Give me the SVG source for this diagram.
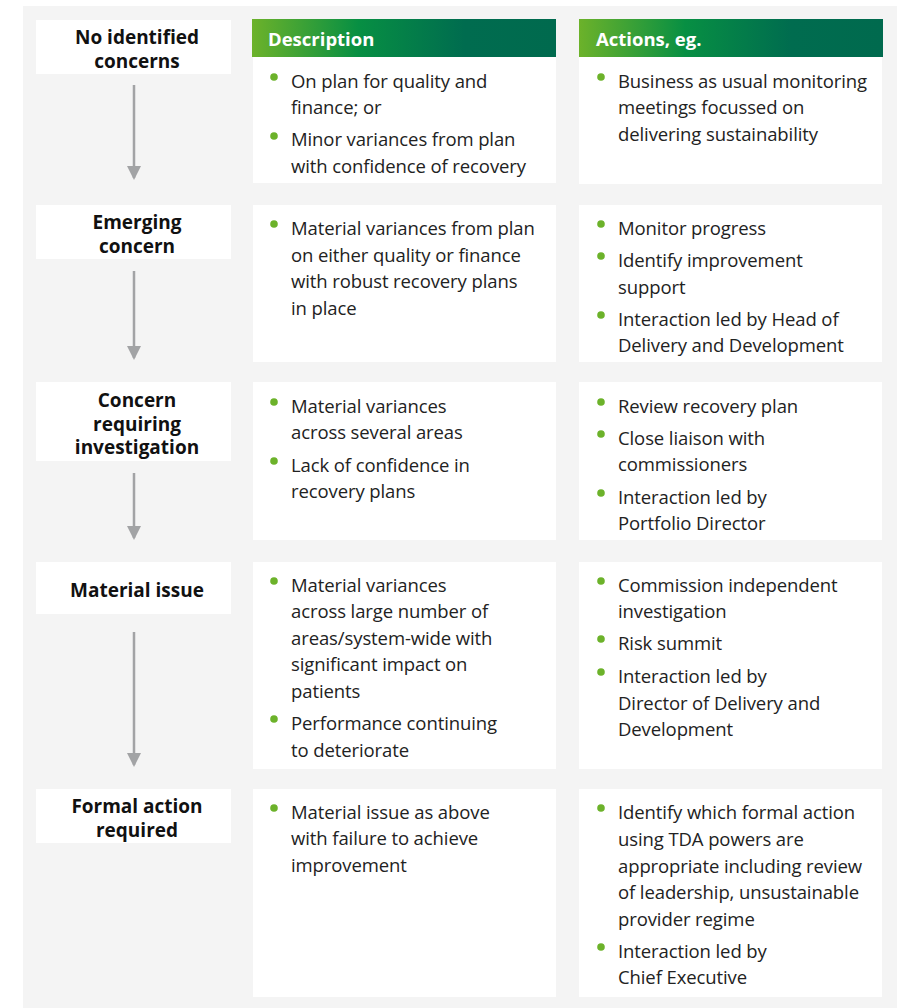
<svg xmlns="http://www.w3.org/2000/svg" width="900" height="1008" viewBox="0 0 900 1008">
  <defs>
    <linearGradient id="hdr" x1="0" y1="0" x2="1" y2="0">
      <stop offset="0" stop-color="#6cb22a"/>
      <stop offset="0.35" stop-color="#078f43"/>
      <stop offset="0.7" stop-color="#006c4f"/>
      <stop offset="1" stop-color="#006a4e"/>
    </linearGradient>
    <marker id="arrowDown" viewBox="0 0 14 14" refX="7" refY="12" markerWidth="14" markerHeight="14" markerUnits="userSpaceOnUse">
      <path d="M0,0 L14,0 L7,14 Z" fill="#a2a3a5"/>
    </marker>
  </defs>
  <style>
    .bg { fill: #f4f4f4; }
    .box { fill: #ffffff; }
    .lbl { font-family: "Open Sans", "Noto Sans", "Liberation Sans", sans-serif; font-weight: bold; font-size: 19px; fill: #111111; text-anchor: middle; }
    .hd { font-family: "Open Sans", "Noto Sans", "Liberation Sans", sans-serif; font-weight: bold; font-size: 18.5px; fill: #ffffff; }
    .tx { font-family: "Open Sans", "Noto Sans", "Liberation Sans", sans-serif; font-size: 18.5px; fill: #222222; letter-spacing: -0.1px; }
    .dot { fill: #6cb22a; }
    .conn { stroke: #a2a3a5; stroke-width: 2.5; fill: none; }
  </style>

  <rect class="bg" x="23" y="6" width="874" height="1002"/>

  <!-- column headers -->
  <g id="header-description">
    <rect x="252" y="19" width="304" height="38" fill="url(#hdr)"/>
    <text class="hd" x="268" y="46">Description</text>
  </g>
  <g id="header-actions">
    <rect x="579" y="19" width="304" height="38" fill="url(#hdr)"/>
    <text class="hd" x="596" y="46">Actions, eg.</text>
  </g>

  <!-- stage 1 -->
  <g id="stage-no-concerns">
    <rect class="box" x="36" y="20" width="195" height="54"/>
    <text class="lbl" x="137" y="44">No identified<tspan x="137" dy="23.5">concerns</tspan></text>
  </g>
  <g id="desc-no-concerns">
    <rect class="box" x="253" y="57" width="303" height="126"/>
    <circle class="dot" cx="274" cy="77" r="3.8"/>
    <text class="tx" x="291" y="88">On plan for quality and</text>
    <text class="tx" x="291" y="114">finance; or</text>
    <circle class="dot" cx="274" cy="136" r="3.8"/>
    <text class="tx" x="291" y="146">Minor variances from plan</text>
    <text class="tx" x="291" y="173">with confidence of recovery</text>
  </g>
  <g id="act-no-concerns">
    <rect class="box" x="579" y="57" width="303" height="127"/>
    <circle class="dot" cx="601" cy="77" r="3.8"/>
    <text class="tx" x="618" y="88">Business as usual monitoring</text>
    <text class="tx" x="618" y="114">meetings focussed on</text>
    <text class="tx" x="618" y="141">delivering sustainability</text>
  </g>

  <!-- stage 2 -->
  <g id="stage-emerging">
    <rect class="box" x="36" y="205" width="195" height="54"/>
    <text class="lbl" x="137" y="229">Emerging<tspan x="137" dy="23.5">concern</tspan></text>
  </g>
  <g id="desc-emerging">
    <rect class="box" x="253" y="205" width="303" height="157"/>
    <circle class="dot" cx="274" cy="224" r="3.8"/>
    <text class="tx" x="291" y="235">Material variances from plan</text>
    <text class="tx" x="291" y="262">on either quality or finance</text>
    <text class="tx" x="291" y="288">with robust recovery plans</text>
    <text class="tx" x="291" y="315">in place</text>
  </g>
  <g id="act-emerging">
    <rect class="box" x="579" y="205" width="303" height="157"/>
    <circle class="dot" cx="601" cy="224" r="3.8"/>
    <text class="tx" x="618" y="235">Monitor progress</text>
    <circle class="dot" cx="601" cy="256" r="3.8"/>
    <text class="tx" x="618" y="267">Identify improvement</text>
    <text class="tx" x="618" y="294">support</text>
    <circle class="dot" cx="601" cy="315" r="3.8"/>
    <text class="tx" x="618" y="326">Interaction led by Head of</text>
    <text class="tx" x="618" y="352">Delivery and Development</text>
  </g>

  <!-- stage 3 -->
  <g id="stage-investigation">
    <rect class="box" x="36" y="382" width="195" height="79"/>
    <text class="lbl" x="137" y="407">Concern<tspan x="137" dy="23.5">requiring</tspan><tspan x="137" dy="23.5">investigation</tspan></text>
  </g>
  <g id="desc-investigation">
    <rect class="box" x="253" y="382" width="303" height="158"/>
    <circle class="dot" cx="274" cy="402" r="3.8"/>
    <text class="tx" x="291" y="413">Material variances</text>
    <text class="tx" x="291" y="439">across several areas</text>
    <circle class="dot" cx="274" cy="461" r="3.8"/>
    <text class="tx" x="291" y="472">Lack of confidence in</text>
    <text class="tx" x="291" y="498">recovery plans</text>
  </g>
  <g id="act-investigation">
    <rect class="box" x="579" y="382" width="303" height="158"/>
    <circle class="dot" cx="601" cy="402" r="3.8"/>
    <text class="tx" x="618" y="413">Review recovery plan</text>
    <circle class="dot" cx="601" cy="434" r="3.8"/>
    <text class="tx" x="618" y="445">Close liaison with</text>
    <text class="tx" x="618" y="471">commissioners</text>
    <circle class="dot" cx="601" cy="493" r="3.8"/>
    <text class="tx" x="618" y="504">Interaction led by</text>
    <text class="tx" x="618" y="530">Portfolio Director</text>
  </g>

  <!-- stage 4 -->
  <g id="stage-material">
    <rect class="box" x="36" y="562" width="195" height="52"/>
    <text class="lbl" x="137" y="597">Material issue</text>
  </g>
  <g id="desc-material">
    <rect class="box" x="253" y="562" width="303" height="207"/>
    <circle class="dot" cx="274" cy="581" r="3.8"/>
    <text class="tx" x="291" y="592">Material variances</text>
    <text class="tx" x="291" y="618">across large number of</text>
    <text class="tx" x="291" y="645">areas/system-wide with</text>
    <text class="tx" x="291" y="671">significant impact on</text>
    <text class="tx" x="291" y="698">patients</text>
    <circle class="dot" cx="274" cy="719" r="3.8"/>
    <text class="tx" x="291" y="730">Performance continuing</text>
    <text class="tx" x="291" y="757">to deteriorate</text>
  </g>
  <g id="act-material">
    <rect class="box" x="579" y="562" width="303" height="207"/>
    <circle class="dot" cx="601" cy="581" r="3.8"/>
    <text class="tx" x="618" y="592">Commission independent</text>
    <text class="tx" x="618" y="618">investigation</text>
    <circle class="dot" cx="601" cy="639" r="3.8"/>
    <text class="tx" x="618" y="650">Risk summit</text>
    <circle class="dot" cx="601" cy="672" r="3.8"/>
    <text class="tx" x="618" y="683">Interaction led by</text>
    <text class="tx" x="618" y="710">Director of Delivery and</text>
    <text class="tx" x="618" y="736">Development</text>
  </g>

  <!-- stage 5 -->
  <g id="stage-formal">
    <rect class="box" x="36" y="789" width="195" height="54"/>
    <text class="lbl" x="137" y="813">Formal action<tspan x="137" dy="23.5">required</tspan></text>
  </g>
  <g id="desc-formal">
    <rect class="box" x="253" y="789" width="303" height="208"/>
    <circle class="dot" cx="274" cy="808" r="3.8"/>
    <text class="tx" x="291" y="819">Material issue as above</text>
    <text class="tx" x="291" y="845">with failure to achieve</text>
    <text class="tx" x="291" y="872">improvement</text>
  </g>
  <g id="act-formal">
    <rect class="box" x="579" y="789" width="303" height="208"/>
    <circle class="dot" cx="601" cy="808" r="3.8"/>
    <text class="tx" x="618" y="819">Identify which formal action</text>
    <text class="tx" x="618" y="846">using TDA powers are</text>
    <text class="tx" x="618" y="873">appropriate including review</text>
    <text class="tx" x="618" y="899">of leadership, unsustainable</text>
    <text class="tx" x="618" y="926">provider regime</text>
    <circle class="dot" cx="601" cy="947" r="3.8"/>
    <text class="tx" x="618" y="958">Interaction led by</text>
    <text class="tx" x="618" y="984">Chief Executive</text>
  </g>

  <!-- escalation arrows between stages -->
  <g id="connectors">
    <line class="conn" x1="134" y1="85" x2="134" y2="178" marker-end="url(#arrowDown)"/>
    <line class="conn" x1="134" y1="271" x2="134" y2="358" marker-end="url(#arrowDown)"/>
    <line class="conn" x1="134" y1="473" x2="134" y2="538" marker-end="url(#arrowDown)"/>
    <line class="conn" x1="134" y1="632" x2="134" y2="765" marker-end="url(#arrowDown)"/>
  </g>
</svg>
